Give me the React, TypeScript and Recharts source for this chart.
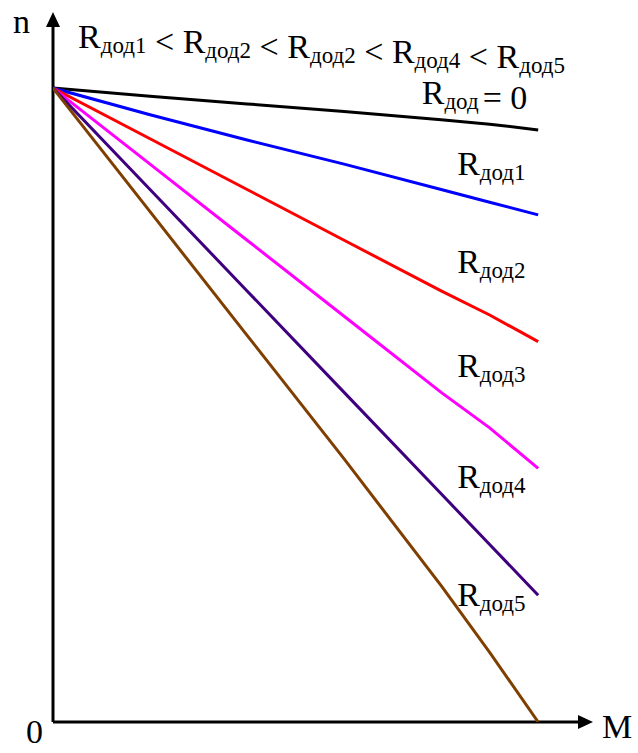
import React from "react";
import { LineChart, Line, XAxis, YAxis, ReferenceLine, ReferenceDot } from "recharts";

// Torque values along the M axis (arbitrary units)
const torque = [0, 2, 4, 6, 8, 9, 10];

// Speed n for each added resistance
const nR0 = [100, 98.7, 97.5, 96.3, 95.0, 94.3, 93.4];
const nR1 = [100, 95.8, 91.8, 88.0, 84.0, 82.0, 80.0];
const nR2 = [100, 92.0, 84.0, 76.0, 68.0, 64.2, 60.0];
const nR3 = [100, 88.0, 76.0, 64.0, 52.0, 46.4, 40.0];
const nR4 = [100, 84.0, 68.0, 52.0, 36.0, 28.0, 20.0];
const nR5 = [100, 80.5, 61.0, 41.5, 21.5, 11.0, 0];

const seriesKeys = ["r0", "r1", "r2", "r3", "r4", "r5"];
const seriesColors = ["#000000", "#0000ff", "#ff0000", "#ff00ff", "#3f0080", "#7f3f00"];
const seriesValues = [nR0, nR1, nR2, nR3, nR4, nR5];

// Curve labels: subscript index ("" for the zero curve) and anchor point in data units
const labelSubs = ["", "1", "2", "3", "4", "5"];
const labelPos = [
  { m: 7.6, n: 97.5 },
  { m: 8.33, n: 86.3 },
  { m: 8.33, n: 70.8 },
  { m: 8.33, n: 54.4 },
  { m: 8.33, n: 36.9 },
  { m: 8.33, n: 18.3 },
];

const X_MAX = 11.13;
const Y_MAX = 112;

const data = torque.map((m, i) => {
  const row: Record<string, number> = { m };
  seriesKeys.forEach((k, j) => (row[k] = seriesValues[j][i]));
  return row;
});

const SERIF = '"Liberation Serif", "DejaVu Serif", "Times New Roman", serif';
const BIG = 34;
const SUB = 23;

function RSub({ sub }: { sub: string }) {
  return (
    <>
      <tspan fontSize={BIG}>R</tspan>
      <tspan fontSize={SUB} dy={5}>{"дод" + sub}</tspan>
      <tspan fontSize={BIG} dy={-5}>{""}</tspan>
    </>
  );
}

const Arrow = (dir: "x" | "y") => (props: any) => {
  const { x1, y1, x2, y2 } = props;
  const head = 15;
  const half = 7;
  let poly = "";
  let lx2 = x2;
  let ly2 = y2;
  if (dir === "x") {
    lx2 = x2 - head + 1;
    poly = `${x2},${y2} ${x2 - head},${y2 - half} ${x2 - head},${y2 + half}`;
  } else {
    ly2 = y2 + head - 1;
    poly = `${x2},${y2} ${x2 - half},${y2 + head} ${x2 + half},${y2 + head}`;
  }
  return (
    <g>
      <line x1={x1} y1={y1} x2={lx2} y2={ly2} stroke="#000" strokeWidth={3} />
      <polygon points={poly} fill="#000" />
    </g>
  );
};

const CurveLabel = (sub: string) => (props: any) => {
  const { cx, cy } = props;
  return (
    <text x={cx} y={cy} fontFamily={SERIF} fill="#000">
      <RSub sub={sub} />
      {sub === "" ? <tspan fontSize={BIG} dx={4}>= 0</tspan> : null}
    </text>
  );
};

export default function App() {
  return (
    <div style={{ width: 630, height: 745, background: "#fff", fontFamily: SERIF }}>
      <LineChart
        width={630}
        height={745}
        data={data}
        margin={{ top: 4, right: 45, bottom: 31, left: 45 }}
      >
        <XAxis dataKey="m" type="number" domain={[0, X_MAX]} hide allowDataOverflow />
        <YAxis type="number" domain={[0, Y_MAX]} hide allowDataOverflow />
        <ReferenceLine
          segment={[{ x: 0, y: 0 }, { x: X_MAX, y: 0 }]}
          shape={Arrow("x")}
          ifOverflow="visible"
        />
        <ReferenceLine
          segment={[{ x: 0, y: 0 }, { x: 0, y: Y_MAX }]}
          shape={Arrow("y")}
          ifOverflow="visible"
        />
        {seriesKeys.map((k, i) => (
          <Line
            key={k}
            dataKey={k}
            type="linear"
            stroke={seriesColors[i]}
            strokeWidth={3}
            dot={false}
            isAnimationActive={false}
          />
        ))}
        {labelPos.map((p, i) => (
          <ReferenceDot
            key={"lbl" + i}
            x={p.m}
            y={p.n}
            r={0}
            ifOverflow="visible"
            shape={CurveLabel(labelSubs[i])}
          />
        ))}
      </LineChart>
      <svg
        width={638}
        height={753}
        style={{ position: "absolute", left: 0, top: 0, pointerEvents: "none" }}
      >
        <text x={13} y={33} fontFamily={SERIF} fontSize={BIG}>n</text>
        <text x={78} y={48} fontFamily={SERIF} fill="#000">
          <RSub sub="1" />
          <tspan fontSize={BIG}> &lt; </tspan>
          <RSub sub="2" />
          <tspan fontSize={BIG}> &lt; </tspan>
          <RSub sub="2" />
          <tspan fontSize={BIG}> &lt; </tspan>
          <RSub sub="4" />
          <tspan fontSize={BIG}> &lt; </tspan>
          <RSub sub="5" />
        </text>
        <text x={26} y={743} fontFamily={SERIF} fontSize={BIG}>0</text>
        <text x={602} y={738} fontFamily={SERIF} fontSize={BIG}>M</text>
      </svg>
    </div>
  );
}
